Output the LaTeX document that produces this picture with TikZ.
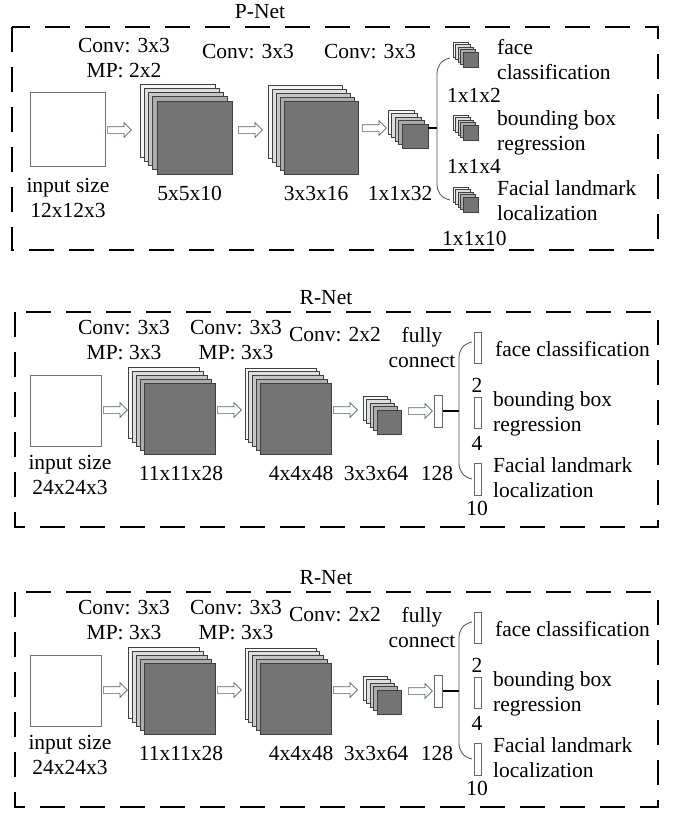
\documentclass[tikz,border=0pt]{standalone}
\usepackage{fontspec}
\setmainfont{Liberation Serif}
\usepackage{tikz}
\usetikzlibrary{shapes.arrows, positioning, calc}

\definecolor{layA}{HTML}{F6F6F6}
\definecolor{layB}{HTML}{DEDEDE}
\definecolor{layC}{HTML}{C6C6C6}
\definecolor{layD}{HTML}{ABABAB}
\definecolor{layE}{HTML}{747474}
\definecolor{flowgreen}{HTML}{4F6A5B}

\tikzset{
	layer/.style={
		draw=black!75,
		anchor=north west,
		inner sep=0pt, outer sep=0pt,
		line width=0.7pt
	},
	inbox/.style={
		draw=black!55, fill=white,
		anchor=north west,
		inner sep=0pt,
		line width=0.9pt
	},
	fcbar/.style={
		draw=black!60, fill=white,
		anchor=north west,
		inner sep=0pt,
		minimum width=7pt,
		line width=0.8pt
	},
	flow/.style={
		single arrow, draw=flowgreen, fill=white,
		anchor=west, inner xsep=0pt, inner ysep=3pt,
		minimum height=24pt,
		single arrow head extend=4pt,
		line width=0.7pt
	},
	lbl/.style={
		inner sep=0pt,
		align=center,
		font=\fontsize{21.5}{25}\selectfont
	},
	lbll/.style={lbl, align=left, anchor=west},
	netbox/.style={line width=1.4pt, dash pattern=on 25pt off 15pt},
	brace/.style={draw=black!70, line width=0.8pt},
	link/.style={line width=1.2pt}
}

% feature map stack: name, front top-left x, y, width, height, step
\newcommand{\fmap}[6]{%
	\foreach \k/\col in {4/layA,3/layB,2/layC,1/layD}
		\node[layer, fill=\col, minimum width=#4pt, minimum height=#5pt] at (#2-\k*#6, #3-\k*#6) {};
	\node[layer, fill=layE, minimum width=#4pt, minimum height=#5pt] (#1) at (#2,#3) {};
}

\begin{document}
\begin{tikzpicture}[x=1pt, y=-1pt]
	\useasboundingbox (0,0) rectangle (690,825);

	%--- P-Net ---
	\draw[netbox] (12,27) rectangle (658,250);
	\node[lbl] (p-title) at (260,12) {P-Net};

	% input and convolution stacks
	\node[inbox, minimum width=75pt, minimum height=74pt] (p-in) at (30,92) {};
	\node[flow] (p-a1) at (107,130) {};
	\fmap{p-c1}{157}{101}{75}{73}{4.25}
	\node[flow] (p-a2) at (238,130) {};
	\fmap{p-c2}{284}{101}{74}{73}{4}
	\node[flow] (p-a3) at (362,128) {};
	\fmap{p-c3}{402}{124}{26}{24}{3.5}

	% three outputs
	\fmap{p-o1}{463}{52}{15}{15}{2.5}
	\fmap{p-o2}{463}{125}{15}{15}{2.5}
	\fmap{p-o3}{463}{197}{15}{15}{2.5}

	% brace
	\coordinate (p-mid) at (437,128);
	\coordinate (p-bt) at (450,58);
	\coordinate (p-bb) at (450,200);
	\draw[link] (p-c3.east |- p-mid) -- (p-mid);
	\draw[brace] (p-bt) .. controls (441,60) and (437,66) .. (437,74) -- (437,184) .. controls (437,192) and (441,198) .. (p-bb);

	% labels
	\node[lbl] (p-t1) at (124,58.5) {Conv: 3x3\\MP: 2x2};
	\node[lbl] (p-t2) at (248,52) {Conv: 3x3};
	\node[lbl] (p-t3) at (370,52) {Conv: 3x3};
	\node[lbl] (p-d0) at (68,197.5) {input size\\12x12x3};
	\node[lbl] (p-d1) at (189.5,193) {5x5x10};
	\node[lbl] (p-d2) at (316,193) {3x3x16};
	\node[lbl] (p-d3) at (400,193) {1x1x32};
	\node[lbll] (p-n1) at (497,59.5) {face\\classification};
	\node[lbll] (p-s1) at (447,95) {1x1x2};
	\node[lbll] (p-n2) at (497,133) {bounding box\\regression};
	\node[lbll] (p-s2) at (447,166) {1x1x4};
	\node[lbll] (p-n3) at (497,200.5) {Facial landmark\\localization};
	\node[lbll] (p-s3) at (442,238) {1x1x10};

	%--- the two R-Net panels ---
	\foreach \n/\sh in {r/0pt, q/-280pt} {
	\begin{scope}[yshift=\sh]
		\draw[netbox] (15,312) rectangle (658,527);
		\node[lbl] (\n-title) at (326,298) {R-Net};

		% input and convolution stacks
		\node[inbox, minimum width=71pt, minimum height=71pt] (\n-in) at (30,375) {};
		\node[flow] (\n-a1) at (103,410) {};
		\fmap{\n-c1}{144}{383}{71}{71}{4}
		\node[flow] (\n-a2) at (217,410) {};
		\fmap{\n-c2}{260}{383}{71}{71}{3.75}
		\node[flow] (\n-a3) at (333,410) {};
		\fmap{\n-c3}{377}{410}{24}{24}{3.5}
		\node[flow] (\n-a4) at (408,411) {};
		\node[fcbar, minimum width=8pt, minimum height=32pt] (\n-fc) at (434,395) {};

		% three outputs
		\node[fcbar, minimum height=31pt] (\n-o1) at (474,332) {};
		\node[fcbar, minimum height=31pt] (\n-o2) at (474,397) {};
		\node[fcbar, minimum height=32pt] (\n-o3) at (474,463) {};

		% brace
		\coordinate (\n-mid) at (459,411);
		\coordinate (\n-bt) at (472,342);
		\coordinate (\n-bb) at (472,479);
		\draw[link] (\n-fc.east |- \n-mid) -- (\n-mid);
		\draw[brace] (\n-bt) .. controls (463,344) and (459,350) .. (459,358) -- (459,463) .. controls (459,471) and (463,477) .. (\n-bb);

		% labels
		\node[lbl] (\n-t1) at (124,340.5) {Conv: 3x3\\MP: 3x3};
		\node[lbl] (\n-t2) at (236,340.5) {Conv: 3x3\\MP: 3x3};
		\node[lbl] (\n-t3) at (335,335) {Conv: 2x2};
		\node[lbl] (\n-t4) at (422,347.5) {fully\\connect};
		\node[lbl] (\n-d0) at (70,475) {input size\\24x24x3};
		\node[lbl] (\n-d1) at (181,473) {11x11x28};
		\node[lbl] (\n-d2) at (301,473) {4x4x48};
		\node[lbl] (\n-d3) at (376,473) {3x3x64};
		\node[lbl] (\n-d4) at (437,473) {128};
		\node[lbll] (\n-n1) at (495,349) {face classification};
		\node[lbl] (\n-s1) at (477,385) {2};
		\node[lbll] (\n-n2) at (493,414) {bounding box\\regression};
		\node[lbl] (\n-s2) at (477,443) {4};
		\node[lbll] (\n-n3) at (493,478) {Facial landmark\\localization};
		\node[lbl] (\n-s3) at (477,508) {10};
	\end{scope}
	}
\end{tikzpicture}
\end{document}
